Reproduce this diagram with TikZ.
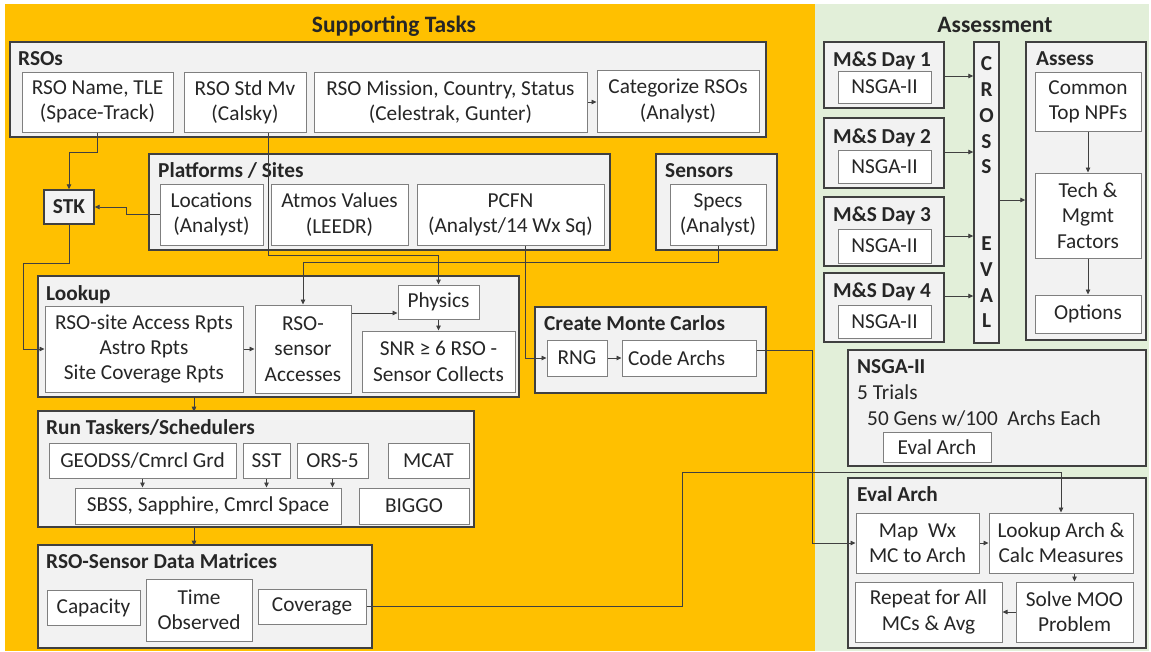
\documentclass[tikz,border=0pt]{standalone}
\usepackage{fontspec}
\setmainfont{Carlito}
\usetikzlibrary{arrows.meta}
\definecolor{gold}{HTML}{FFC000}
\definecolor{sage}{HTML}{E2EFD9}
\definecolor{panel}{HTML}{F2F2F2}
\definecolor{rim}{HTML}{404040}
\definecolor{edge}{HTML}{7F7F7F}
\definecolor{ink}{HTML}{262626}
\tikzset{
  grp/.style={draw=rim,fill=panel,line width=1.4pt,inner sep=0pt},
  itm/.style={draw=edge,fill=white,line width=1pt,align=center,inner sep=0pt,
    text=ink,font=\fontsize{21.3}{25.3}\selectfont},
  ttl/.style={anchor=base west,inner sep=0pt,text=ink,
    font=\fontsize{21.3}{25.3}\selectfont\bfseries},
  txt/.style={anchor=base west,inner sep=0pt,text=ink,
    font=\fontsize{21.3}{25.3}\selectfont},
  head/.style={anchor=base,inner sep=0pt,text=ink,
    font=\fontsize{23.5}{27}\selectfont\bfseries},
  wire/.style={draw=rim,line width=0.8pt,-{Triangle[length=5pt,width=4.5pt]}},
  sz/.style 2 args={minimum width=#1pt,minimum height=#2pt}
}
\begin{document}
\begin{tikzpicture}[x=1pt,y=-1pt]
\useasboundingbox (0,0) rectangle (1151,651);
\fill[gold] (5,4) rectangle (815,651);
\fill[sage] (815,4) rectangle (1149,651);
\node[head] (suphead) at (394,32) {Supporting Tasks};
\node[head] (asshead) at (995,32) {Assessment};

% supporting task groups
\node[grp,sz={756}{95}] (rsos) at (388,89.5) {};
\node[ttl] (rsoslbl) at (18,65) {RSOs};
\node[grp,sz={461}{96}] (plat) at (379.5,202) {};
\node[ttl] (platlbl) at (158,177) {Platforms / Sites};
\node[grp,sz={121}{96}] (sens) at (716.5,202) {};
\node[ttl] (senslbl) at (665,177) {Sensors};
\node[grp,sz={50}{34},font=\fontsize{21.3}{25.3}\selectfont\bfseries,text=ink] (stk) at (69,207) {STK};
\node[grp,sz={481}{121}] (lookup) at (278.5,336.5) {};
\node[ttl] (lookuplbl) at (46,300) {Lookup};
\node[grp,sz={436}{116}] (taskers) at (256,469) {};
\node[ttl] (taskerslbl) at (46,434) {Run Taskers/Schedulers};
\node[grp,sz={334}{103}] (matrices) at (205,596.5) {};
\node[ttl] (matriceslbl) at (46,568) {RSO-Sensor Data Matrices};
\node[grp,sz={231}{86}] (monte) at (650.5,350) {};
\node[ttl] (montelbl) at (544,330) {Create Monte Carlos};

% assessment groups
\node[grp,sz={120}{66}] (day1) at (884,75) {};
\node[ttl] (day1lbl) at (833,66) {M\&S Day 1};
\node[grp,sz={120}{70}] (day2) at (884,153) {};
\node[ttl] (day2lbl) at (833,143) {M\&S Day 2};
\node[grp,sz={120}{69}] (day3) at (884,231.5) {};
\node[ttl] (day3lbl) at (833,221) {M\&S Day 3};
\node[grp,sz={120}{69}] (day4) at (884,307.5) {};
\node[ttl] (day4lbl) at (833,297) {M\&S Day 4};
\node[grp,sz={25}{301},align=center,text=ink,
  font=\fontsize{21.3}{25.7}\selectfont\bfseries] (cross) at (986.5,192.5)
  {C\\R\\O\\S\\S\\\mbox{}\\\mbox{}\\E\\V\\A\\L};
\node[grp,sz={120}{298}] (assess) at (1086,191) {};
\node[ttl] (assesslbl) at (1036,65) {Assess};
\node[grp,sz={298}{116}] (nsga) at (997,408) {};
\node[ttl] (nsgalbl) at (857,373) {NSGA-II};
\node[txt] (trials) at (857,399) {5 Trials};
\node[txt] (gens) at (867,425) {50 Gens w/100~ Archs Each};
\node[grp,sz={298}{170}] (evalc) at (997,563) {};
\node[ttl] (evalclbl) at (857,501) {Eval Arch};

% items
\node[itm,sz={151}{60}] (rsoname) at (97.5,102) {RSO Name, TLE\\(Space-Track)};
\node[itm,sz={122}{60}] (rsostd) at (245,102) {RSO Std Mv\\(Calsky)};
\node[itm,sz={273}{60}] (rsomis) at (450.5,102) {RSO Mission, Country, Status\\(Celestrak, Gunter)};
\node[itm,sz={162}{62}] (categ) at (678,101) {Categorize RSOs\\(Analyst)};
\node[itm,sz={103}{61}] (loc) at (211.5,214.5) {Locations\\(Analyst)};
\node[itm,sz={137}{61}] (atmos) at (339.5,214.5) {Atmos Values\\(LEEDR)};
\node[itm,sz={187}{61}] (pcfn) at (510.5,214.5) {PCFN\\(Analyst/14 Wx Sq)};
\node[itm,sz={96}{61}] (specs) at (718,214.5) {Specs\\(Analyst)};
\node[itm,sz={198}{86}] (access) at (144,349) {RSO-site Access Rpts\\Astro Rpts\\Site Coverage Rpts};
\node[itm,sz={96}{88}] (senacc) at (303,349) {RSO-\\sensor\\Accesses};
\node[itm,sz={81}{34}] (physics) at (438.5,302) {Physics};
\node[itm,sz={153}{61}] (snr) at (438.5,361.5) {SNR ≥ 6 RSO -\\Sensor Collects};
\node[itm,sz={187}{35}] (geodss) at (142.5,460.5) {GEODSS/Cmrcl Grd};
\node[itm,sz={47}{35}] (sst) at (266.5,460.5) {SST};
\node[itm,sz={71}{35}] (ors) at (332.5,460.5) {ORS-5};
\node[itm,sz={81}{35}] (mcat) at (428.5,460.5) {MCAT};
\node[itm,sz={266}{36}] (sbss) at (208,506) {SBSS, Sapphire, Cmrcl Space};
\node[itm,sz={110}{36}] (biggo) at (414,506) {BIGGO};
\node[itm,sz={93}{35}] (capacity) at (93.5,607.5) {Capacity};
\node[itm,sz={106}{62}] (timeobs) at (199,610) {Time\\Observed};
\node[itm,sz={108}{35}] (coverage) at (312,606.5) {Coverage};
\node[itm,sz={60}{36}] (rng) at (577,358) {RNG};
\node[itm,sz={134}{36},inner xsep=6pt,text width=122pt,align=flush left] (codearch) at (689,358) {Code Archs};
\node[itm,sz={93}{32}] (nsga1) at (884.5,87) {NSGA-II};
\node[itm,sz={93}{33}] (nsga2) at (884.5,166.5) {NSGA-II};
\node[itm,sz={93}{34}] (nsga3) at (884.5,246) {NSGA-II};
\node[itm,sz={93}{33}] (nsga4) at (884.5,321.5) {NSGA-II};
\node[itm,sz={106}{59}] (common) at (1088,101.5) {Common\\Top NPFs};
\node[itm,sz={106}{85}] (tech) at (1088,215.5) {Tech \&\\Mgmt\\Factors};
\node[itm,sz={106}{38}] (options) at (1088,314) {Options};
\node[itm,sz={108}{30}] (evalbox) at (937,447) {Eval Arch};
\node[itm,sz={123}{60}] (mapwx) at (917.5,543) {Map~ Wx\\MC to Arch};
\node[itm,sz={144}{60}] (lkarch) at (1061,543) {Lookup Arch \&\\Calc Measures};
\node[itm,sz={147}{60}] (repeat) at (928.5,612) {Repeat for All\\MCs \& Avg};
\node[itm,sz={117}{60}] (solve) at (1074.5,612) {Solve MOO\\Problem};

% connectors
\draw[wire] (rsoname.south) -- ++(0,20) -| (stk.north);
\draw[wire] (loc.west) -- ++(-33,0) |- (stk.east);
\draw[wire] (rsomis.east) -- (rsomis.east -| categ.west);
\draw[wire] ([xshift=23pt]rsostd.south) -- ++(0,123) -| (physics.north);
\draw[wire] (specs.south) -- ++(0,17) -| (senacc.north);
\draw[wire] ([xshift=14.5pt]pcfn.south) |- (rng.west);
\draw[wire] (stk.south) -- ++(0,39) -- ++(-46,0) |- (access.west);
\draw[wire] (access.east) -- (senacc.west);
\draw[wire] ([yshift=36pt]senacc.east) -- ([yshift=36pt]senacc.east -| physics.west);
\draw[wire] (physics.south) -- (snr.north);
\draw[wire] ([xshift=-84.5pt]lookup.south) -- ++(0,14);
\draw[wire] (geodss.south) -- (geodss.south |- sbss.north);
\draw[wire] (sst.south) -- (sst.south |- sbss.north);
\draw[wire] (ors.south) -- (ors.south |- sbss.north);
\draw[wire] ([xshift=-62pt]taskers.south) -- ++(0,18);
\draw[wire] (rng.east) -- (codearch.west);
\draw[wire] ([yshift=8pt]codearch.east) -- ++(56,0) |- (mapwx.west);
\draw[wire] (coverage.east) -- ++(316,0) -- ++(0,-134.5) -| (lkarch.north);
\draw[wire] ([yshift=-1pt]day1.east) -- ([yshift=-1pt]day1.east -| cross.west);
\draw[wire] ([yshift=1pt]day2.east) -- ([yshift=1pt]day2.east -| cross.west);
\draw[wire] ([yshift=-4.5pt]day3.east) -- ([yshift=-4.5pt]day3.east -| cross.west);
\draw[wire] ([yshift=11.5pt]day4.east) -- ([yshift=11.5pt]day4.east -| cross.west);
\draw[wire] ([yshift=-7.5pt]cross.east) -- ([yshift=-7.5pt]cross.east -| assess.west);
\draw[wire] (common.south) -- (tech.north);
\draw[wire] (tech.south) -- (options.north);
\draw[wire] (mapwx.east) -- (lkarch.west);
\draw[wire] (solve.north |- lkarch.south) -- (solve.north);
\draw[wire] (solve.west) -- (repeat.east);
\end{tikzpicture}
\end{document}
